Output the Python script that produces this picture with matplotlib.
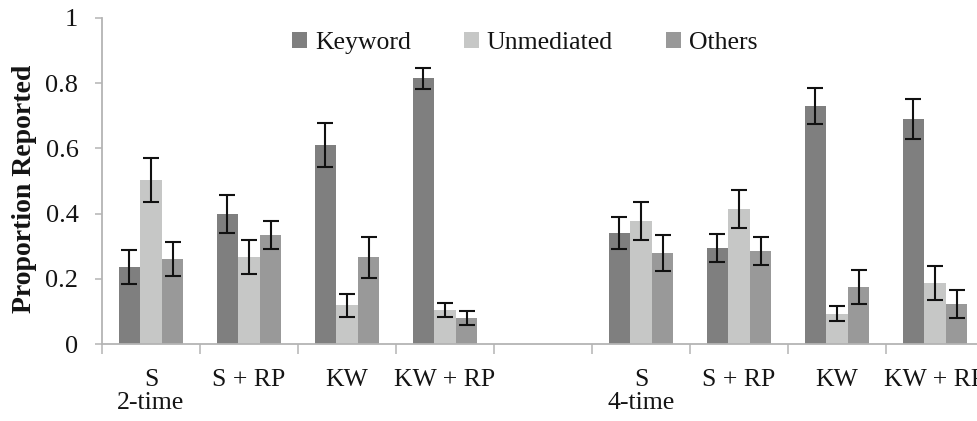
import matplotlib
matplotlib.use("Agg")
import matplotlib.pyplot as plt
from matplotlib.patches import Patch
import numpy as np

plt.rcParams['font.family'] = ['Liberation Serif', 'DejaVu Serif']

categories = ["S", "S + RP", "KW", "KW + RP"]
groups = ["2-time", "4-time"]
series = ["Keyword", "Unmediated", "Others"]

# values: [group][category]
keyword = [[0.237, 0.399, 0.610, 0.815],
           [0.341, 0.295, 0.729, 0.690]]
unmediated = [[0.503, 0.267, 0.120, 0.105],
              [0.377, 0.414, 0.093, 0.188]]
others = [[0.261, 0.335, 0.267, 0.080],
          [0.279, 0.286, 0.175, 0.123]]

keyword_err = [[0.052, 0.059, 0.067, 0.032],
               [0.049, 0.044, 0.055, 0.062]]
unmediated_err = [[0.068, 0.053, 0.035, 0.022],
                  [0.059, 0.058, 0.023, 0.051]]
others_err = [[0.053, 0.044, 0.063, 0.021],
              [0.055, 0.043, 0.052, 0.043]]

colors = ["#7f7f7f", "#c6c7c6", "#999999"]
axis_gray = "#b4b4b4"
text_color = "#141414"

W, H = 977, 421
fig = plt.figure(figsize=(W / 100, H / 100), dpi=100)
left = 102 / W
bottom = (H - 344.3) / H
height = (344.3 - 17.7) / H
width = 882 / W
ax = fig.add_axes([left, bottom, width, height])

ncat = len(categories)
slot_x = []
for g in range(len(groups)):
    for c in range(ncat):
        slot_x.append(g * (ncat + 1) + c)
slot_x = np.array(slot_x, dtype=float)

bw = 0.22
offsets = [-bw, 0.0, bw]
vals = [keyword, unmediated, others]
errs = [keyword_err, unmediated_err, others_err]
for s, (v, e, col, off) in enumerate(zip(vals, errs, colors, offsets)):
    v = np.array(v).ravel()
    e = np.array(e).ravel()
    ax.bar(slot_x + off, v, width=bw, color=col, edgecolor='none', zorder=2)
    ax.errorbar(slot_x + off, v, yerr=e, fmt='none', ecolor='#111111',
                elinewidth=1.5, capsize=5.5, capthick=1.5, zorder=3)

nslots = len(groups) * (ncat + 1) - 1
ax.set_xlim(-0.5, nslots - 0.5)
ax.set_ylim(0, 1)

# boundaries as major ticks, labels at slot centers as minor ticks
ax.set_xticks(np.arange(-0.5, nslots, 1.0))
ax.set_xticklabels([])
ax.set_xticks(slot_x, minor=True)
ax.set_xticklabels(categories * len(groups), minor=True)
ax.tick_params(axis='x', which='major', length=7, width=1.1, color=axis_gray,
               direction='out')
ax.tick_params(axis='x', which='minor', length=0, pad=17.5, labelsize=18.5,
               labelcolor=text_color)

yt = [0, 0.2, 0.4, 0.6, 0.8, 1.0]
ax.set_yticks(yt)
ax.set_yticklabels(["0", "0.2", "0.4", "0.6", "0.8", "1"])
ax.tick_params(axis='y', length=5, width=1.1, color=axis_gray, direction='out',
               pad=12, labelsize=19, labelcolor=text_color)

for sp in ['top', 'right']:
    ax.spines[sp].set_visible(False)
for sp in ['left', 'bottom']:
    ax.spines[sp].set_color(axis_gray)
    ax.spines[sp].set_linewidth(1.3)

# group labels under the first category of each group
for g, name in enumerate(groups):
    ax.annotate(name, xy=(g * (ncat + 1), 0), xycoords=('data', 'axes fraction'),
                xytext=(0, -34), textcoords='offset points', ha='center', va='top',
                fontsize=18.5, color=text_color)

fig.text(25 / W, 1 - 189 / H, "Proportion Reported", rotation=90, ha='center',
         va='center', fontsize=20, fontweight='bold', color=text_color)

handles = [Patch(facecolor=c, edgecolor='none') for c in colors]
fig.legend(handles, series, loc='center left', bbox_to_anchor=(292 / W, 1 - 43 / H),
           ncol=3, frameon=False, fontsize=18.5, handlelength=0.6, handleheight=0.6,
           handletextpad=0.3, columnspacing=2.05, borderpad=0, borderaxespad=0,
           labelcolor=text_color)

fig.savefig("out.png", dpi=100)
